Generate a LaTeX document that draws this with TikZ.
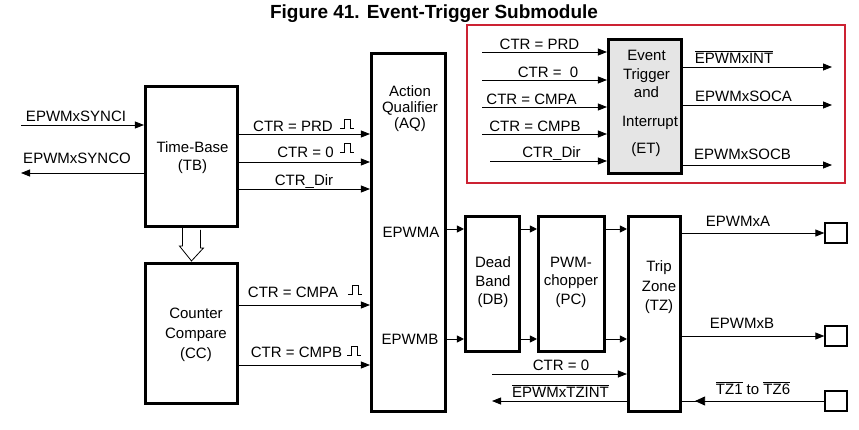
\documentclass[tikz,border=0pt]{standalone}
\usepackage{fontspec}
\setmainfont{Liberation Sans}
\usetikzlibrary{arrows.meta}
\definecolor{framered}{RGB}{204,34,51}
\definecolor{etgray}{RGB}{229,229,229}
\tikzset{blk/.style={draw, line width=2.6pt, inner sep=0pt},
  sig/.style={line width=0.8pt, -{Triangle[length=9pt,width=7pt]}},
  shortsig/.style={line width=0.8pt, -{Triangle[length=7pt,width=7pt]}},
  bigsig/.style={line width=0.8pt, -{Triangle[length=10pt,width=9pt]}},
  padbox/.style={draw, line width=1.3pt, minimum width=22pt, minimum height=20pt},
  lbl/.style={font=\fontsize{15}{18}\selectfont, inner sep=0pt, anchor=base},
  txt/.style={font=\fontsize{15}{#1}\selectfont, align=center, inner sep=0pt}}
\newcommand\ovl[1]{$\overline{\mbox{#1}}$}
\newcommand\pulsemark[1]{\draw[line width=0.7pt] #1 -- ++(4,0) -- ++(0,-9) -- ++(6,0) -- ++(0,9) -- ++(4,0);}

\begin{document}
\begin{tikzpicture}[x=1pt, y=-1pt]
  \useasboundingbox (0,0) rectangle (859,429);
  \node[font=\bfseries\fontsize{19}{22}\selectfont, anchor=base] (title) at (434,18.5) {Figure 41. Event-Trigger Submodule};

  % blocks
  \node[blk, minimum width=92.5pt, minimum height=140.5pt] (tb) at (191.5,156.5) {};
  \node[blk, minimum width=92.5pt, minimum height=140.5pt] (cc) at (191.5,333.5) {};
  \node[blk, minimum width=74.5pt, minimum height=358.5pt] (aq) at (408.5,232.5) {};
  \node[blk, minimum width=54.5pt, minimum height=135.5pt] (db) at (492.5,284) {};
  \node[blk, minimum width=66.5pt, minimum height=135.5pt] (pc) at (571.5,284) {};
  \node[blk, minimum width=52.5pt, minimum height=195.5pt] (tz) at (654.5,314) {};
  \node[blk, fill=etgray, minimum width=73.5pt, minimum height=134.5pt] (et) at (645,106.5) {};

  \node[txt=18] (tbtext) at (192.5,158) {Time-Base\\(TB)};
  \node[txt=20] (cctext) at (196,335) {Counter\\Compare\\(CC)};
  \node[txt=16] (aqtext) at (410,109) {Action\\Qualifier\\(AQ)};
  \node[lbl] (epwma) at (411,237) {EPWMA};
  \node[lbl] (epwmb) at (410,344) {EPWMB};
  \node[txt=18.5] (dbtext) at (493,282.5) {Dead\\Band\\(DB)};
  \node[txt=18.5] (pctext) at (571,282) {PWM-\\chopper\\(PC)};
  \node[txt=19.5] (tztext) at (659,287.5) {Trip\\Zone\\(TZ)};
  \node[txt=18.5] (ettext) at (646.5,74) {Event\\Trigger\\and};
  \node[lbl] (etint) at (650,126) {Interrupt};
  \node[lbl] (etname) at (646,153) {(ET)};

  % hollow arrow TB to CC
  \draw[line width=0.8pt, fill=white] ([xshift=-9pt]tb.south) -- ++(0,18) -- ++(-3,0) -- ([yshift=1pt]cc.north) -- ++(12,-13) -- ++(-3,0) -- ++(0,-18);

  % sync
  \coordinate (synci) at (21,125);
  \coordinate (synco) at (21,173);
  \draw[sig] (synci) -- (tb.west |- synci);
  \draw[sig] (tb.west |- synco) -- (synco);
  \node[lbl] (lsynci) at (76,121) {EPWMxSYNCI};
  \node[lbl] (lsynco) at (77,163) {EPWMxSYNCO};

  % TB and CC to AQ
  \draw[sig] (tb.east |- 0,134) -- (aq.west |- 0,134);
  \draw[sig] (tb.east |- 0,162) -- (aq.west |- 0,162);
  \draw[sig] (tb.east |- 0,189) -- (aq.west |- 0,189);
  \draw[sig] (cc.east |- 0,305) -- (aq.west |- 0,305);
  \draw[sig] (cc.east |- 0,365) -- (aq.west |- 0,365);
  \node[lbl] (lprd) at (293,131) {CTR = PRD};
  \node[lbl] (lzero) at (305.5,157) {CTR = 0};
  \node[lbl] (ldir) at (304,185) {CTR\_Dir};
  \node[lbl] (lcmpa) at (293,297) {CTR = CMPA};
  \node[lbl] (lcmpb) at (296.5,357) {CTR = CMPB};
  \pulsemark{(340,128)}
  \pulsemark{(340,152)}
  \pulsemark{(348,294)}
  \pulsemark{(347,355)}

  % AQ to DB to PC to TZ
  \foreach \yy in {229,339} {
    \draw[shortsig] (aq.east |- 0,\yy) -- (db.west |- 0,\yy);
    \draw[shortsig] (db.east |- 0,\yy) -- (pc.west |- 0,\yy);
    \draw[shortsig] (pc.east |- 0,\yy) -- (tz.west |- 0,\yy);
  }

  % TZ outputs
  \node[padbox] (pada) at (836,233) {};
  \node[padbox] (padb) at (836,336) {};
  \node[padbox] (padtz) at (836,401) {};
  \draw[sig] (tz.east |- pada) -- (pada.west);
  \draw[sig] (tz.east |- padb) -- (padb.west);
  \draw[line width=0.8pt] (padtz.west) -- (tz.east |- padtz);
  \draw[bigsig] (padtz.west) -- ([xshift=13pt]tz.east |- padtz);
  \node[lbl] (lxa) at (738,226) {EPWMxA};
  \node[lbl] (lxb) at (742,328) {EPWMxB};
  \node[lbl] (ltz) at (753,394) {\ovl{TZ1} to \ovl{TZ6}};

  \coordinate (tzctr) at (492,374);
  \coordinate (tzint) at (492,401);
  \draw[sig] (tzctr) -- (tz.west |- tzctr);
  \draw[sig] (tz.west |- tzint) -- (tzint);
  \node[lbl] (ltzctr) at (561,370) {CTR = 0};
  \node[lbl] (ltzint) at (560.5,397) {\ovl{EPWMxTZINT}};

  % event trigger inset
  \draw[framered, line width=1.5pt] (467,25) rectangle (845,183);
  \foreach \yy/\xs in {52/482, 80/482, 107/482, 134/482, 161/490} {
    \coordinate (etin\yy) at (\xs,\yy);
    \draw[sig] (etin\yy) -- (et.west |- etin\yy);
  }
  \foreach \yy in {67,105,165} {
    \coordinate (etout\yy) at (832,\yy);
    \draw[sig] (et.east |- etout\yy) -- (etout\yy);
  }
  \node[lbl] (leprd) at (539.5,49) {CTR = PRD};
  \node[lbl] (lezero) at (548,77) {CTR =\ \ 0};
  \node[lbl] (lecmpa) at (531.5,104) {CTR = CMPA};
  \node[lbl] (lecmpb) at (535,131) {CTR = CMPB};
  \node[lbl] (ledir) at (551.5,157) {CTR\_Dir};
  \node[lbl] (leint) at (734,63) {\ovl{EPWMxINT}};
  \node[lbl] (lesoca) at (743.5,101) {EPWMxSOCA};
  \node[lbl] (lesocb) at (742.5,159) {EPWMxSOCB};
\end{tikzpicture}
\end{document}
